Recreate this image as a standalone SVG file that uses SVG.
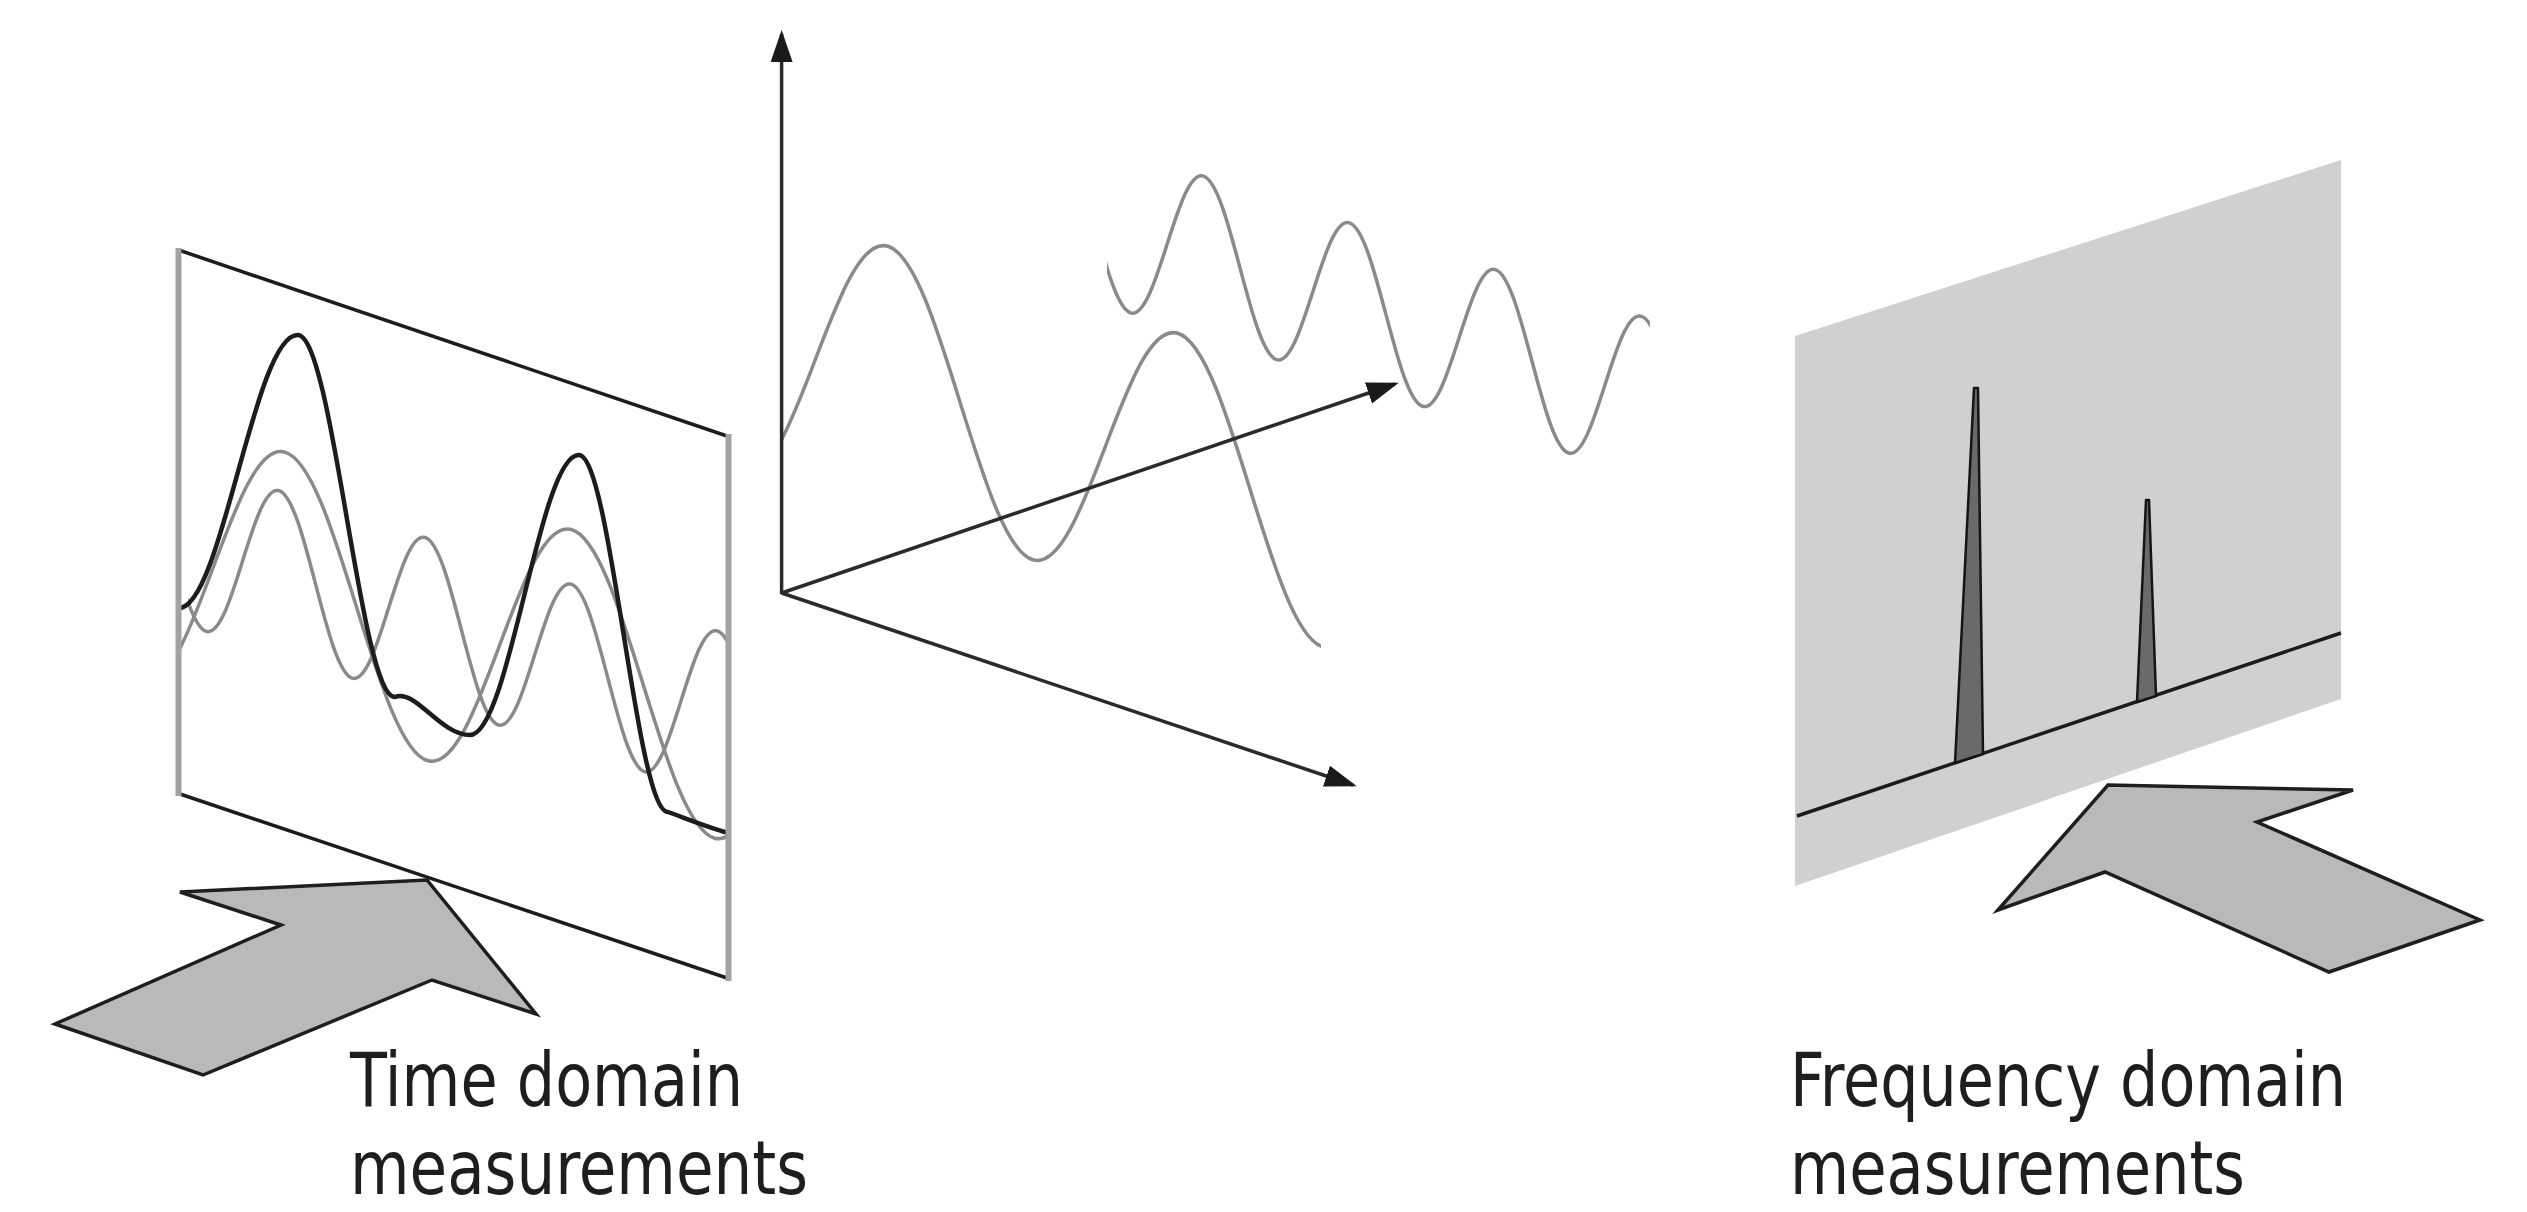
<svg xmlns="http://www.w3.org/2000/svg" width="2527" height="1212" viewBox="0 0 2527 1212">
<style>
.gw{fill:none;stroke:#8a8a8a;stroke-width:3.5;vector-effect:non-scaling-stroke}
.bw{fill:none;stroke:#1c1c1c;stroke-width:4.5}
.edge{stroke:#a2a2a2;stroke-width:6;fill:none}
.rim{stroke:#1c1c1c;stroke-width:3.5;fill:none}
.axis{stroke:#2a2a2a;stroke-width:3.5;fill:none}
.big{fill:#b9b9bc;stroke:#1e1e1e;stroke-width:3.5;stroke-linejoin:miter}
.lbl{font-family:"Liberation Sans Narrow","DejaVu Sans Condensed","Liberation Sans",Arial,sans-serif;font-size:74px;fill:#1e1e1e}
</style>
<defs>
<marker id="ah" markerUnits="userSpaceOnUse" markerWidth="32" markerHeight="24" refX="28" refY="12" orient="auto">
<path d="M0,1 L32,12 L0,23 z" fill="#1a1a1a"/>
</marker>
<clipPath id="clipA"><rect x="188" y="0" width="540" height="1212"/></clipPath>
<clipPath id="clipL"><rect x="180" y="0" width="548" height="1212"/></clipPath>
<clipPath id="clipC1"><rect x="782" y="0" width="539" height="1212"/></clipPath>
<clipPath id="clipC2"><rect x="1107" y="0" width="543" height="1212"/></clipPath>
</defs>
<rect width="2527" height="1212" fill="#ffffff"/>

<g id="time-panel">
<g clip-path="url(#clipA)">
<path class="gw" transform="matrix(36.525,11.688,0,82,279.1,572.7)" d="M-4,-1 c.3619,0 .6739,.4877 1,1 c.3261,.5123 .6381,1 1,1 c.3619,0 .6739,-.4877 1,-1 c.3261,-.5123 .6381,-1 1,-1 c.3619,0 .6739,.4877 1,1 c.3261,.5123 .6381,1 1,1 c.3619,0 .6739,-.4877 1,-1 c.3261,-.5123 .6381,-1 1,-1 c.3619,0 .6739,.4877 1,1 c.3261,.5123 .6381,1 1,1 c.3619,0 .6739,-.4877 1,-1 c.3261,-.5123 .6381,-1 1,-1 c.3619,0 .6739,.4877 1,1 c.3261,.5123 .6381,1 1,1 c.3619,0 .6739,-.4877 1,-1 c.3261,-.5123 .6381,-1 1,-1 c.3619,0 .6739,.4877 1,1 c.3261,.5123 .6381,1 1,1 c.3619,0 .6739,-.4877 1,-1 c.3261,-.5123 .6381,-1 1,-1"/>
</g>
<g clip-path="url(#clipL)">
<path class="gw" transform="matrix(71.65,19.35,0,135,284.7,587.1)" d="M-4,-1 c.3619,0 .6739,.4877 1,1 c.3261,.5123 .6381,1 1,1 c.3619,0 .6739,-.4877 1,-1 c.3261,-.5123 .6381,-1 1,-1 c.3619,0 .6739,.4877 1,1 c.3261,.5123 .6381,1 1,1 c.3619,0 .6739,-.4877 1,-1 c.3261,-.5123 .6381,-1 1,-1 c.3619,0 .6739,.4877 1,1 c.3261,.5123 .6381,1 1,1 c.3619,0 .6739,-.4877 1,-1 c.3261,-.5123 .6381,-1 1,-1"/>
</g>
<path class="bw" d="M179,608 C222,608 254,335 297.6,335 C333,335 360,697 395,697 C415,688 440,735 470,735 C509.6,735 539.1,455 578.7,455 C611,455 636,812 668,812 C690,820 710,828 728.5,833"/>
<line class="rim" x1="178.5" y1="250" x2="728.5" y2="436.5"/>
<line class="rim" x1="178.5" y1="793.5" x2="728.5" y2="978.5"/>
<line class="edge" x1="178.5" y1="248" x2="178.5" y2="796"/>
<line class="edge" x1="728.5" y1="434" x2="728.5" y2="981"/>
</g>

<g id="time-arrow">
<polygon class="big" points="180,892 427,880 536,1014 432,980 203,1075 55,1024 281,925"/>
</g>

<g id="signal-waves">
<g clip-path="url(#clipC1)">
<path class="gw" transform="matrix(72.5,21.75,0,135,887.8,381.3)" d="M-4,-1 c.3619,0 .6739,.4877 1,1 c.3261,.5123 .6381,1 1,1 c.3619,0 .6739,-.4877 1,-1 c.3261,-.5123 .6381,-1 1,-1 c.3619,0 .6739,.4877 1,1 c.3261,.5123 .6381,1 1,1 c.3619,0 .6739,-.4877 1,-1 c.3261,-.5123 .6381,-1 1,-1 c.3619,0 .6739,.4877 1,1 c.3261,.5123 .6381,1 1,1 c.3619,0 .6739,-.4877 1,-1 c.3261,-.5123 .6381,-1 1,-1"/>
</g>
<g clip-path="url(#clipC2)">
<path class="gw" transform="matrix(36.5,11.68,0,80,1203.5,256.2)" d="M-4,-1 c.3619,0 .6739,.4877 1,1 c.3261,.5123 .6381,1 1,1 c.3619,0 .6739,-.4877 1,-1 c.3261,-.5123 .6381,-1 1,-1 c.3619,0 .6739,.4877 1,1 c.3261,.5123 .6381,1 1,1 c.3619,0 .6739,-.4877 1,-1 c.3261,-.5123 .6381,-1 1,-1 c.3619,0 .6739,.4877 1,1 c.3261,.5123 .6381,1 1,1 c.3619,0 .6739,-.4877 1,-1 c.3261,-.5123 .6381,-1 1,-1 c.3619,0 .6739,.4877 1,1 c.3261,.5123 .6381,1 1,1 c.3619,0 .6739,-.4877 1,-1 c.3261,-.5123 .6381,-1 1,-1 c.3619,0 .6739,.4877 1,1 c.3261,.5123 .6381,1 1,1 c.3619,0 .6739,-.4877 1,-1 c.3261,-.5123 .6381,-1 1,-1"/>
</g>
</g>

<g id="connectors">
<line class="axis" x1="781.6" y1="594" x2="781.6" y2="34" marker-end="url(#ah)"/>
<line class="axis" x1="781.6" y1="593" x2="1395" y2="384" marker-end="url(#ah)"/>
<line class="axis" x1="781.6" y1="593" x2="1353" y2="785" marker-end="url(#ah)"/>
</g>

<g id="freq-panel">
<polygon points="1795,336 2341,160 2341,699 1795,886" fill="#d0d0d2"/>
<line x1="1797" y1="816" x2="2341" y2="633" stroke="#1c1c1c" stroke-width="3.5"/>
<polygon points="1955,763 1974,388 1978,388 1983,754" fill="#6a6a6a" stroke="#151515" stroke-width="2.5" stroke-linejoin="round"/>
<polygon points="2137,702 2146,500 2149,500 2156,696" fill="#6a6a6a" stroke="#151515" stroke-width="2.5" stroke-linejoin="round"/>
</g>

<g id="freq-arrow">
<polygon class="big" points="1998,910 2108,785 2353,790 2257,822 2480,920 2329,972 2105,872"/>
</g>

<g id="time-label">
<text class="lbl" x="350" y="1106" textLength="393" lengthAdjust="spacingAndGlyphs">Time domain</text>
<text class="lbl" x="350" y="1194" textLength="458" lengthAdjust="spacingAndGlyphs">measurements</text>
</g>
<g id="freq-label">
<text class="lbl" x="1790" y="1106" textLength="556" lengthAdjust="spacingAndGlyphs">Frequency domain</text>
<text class="lbl" x="1790" y="1194" textLength="455" lengthAdjust="spacingAndGlyphs">measurements</text>
</g>
</svg>
